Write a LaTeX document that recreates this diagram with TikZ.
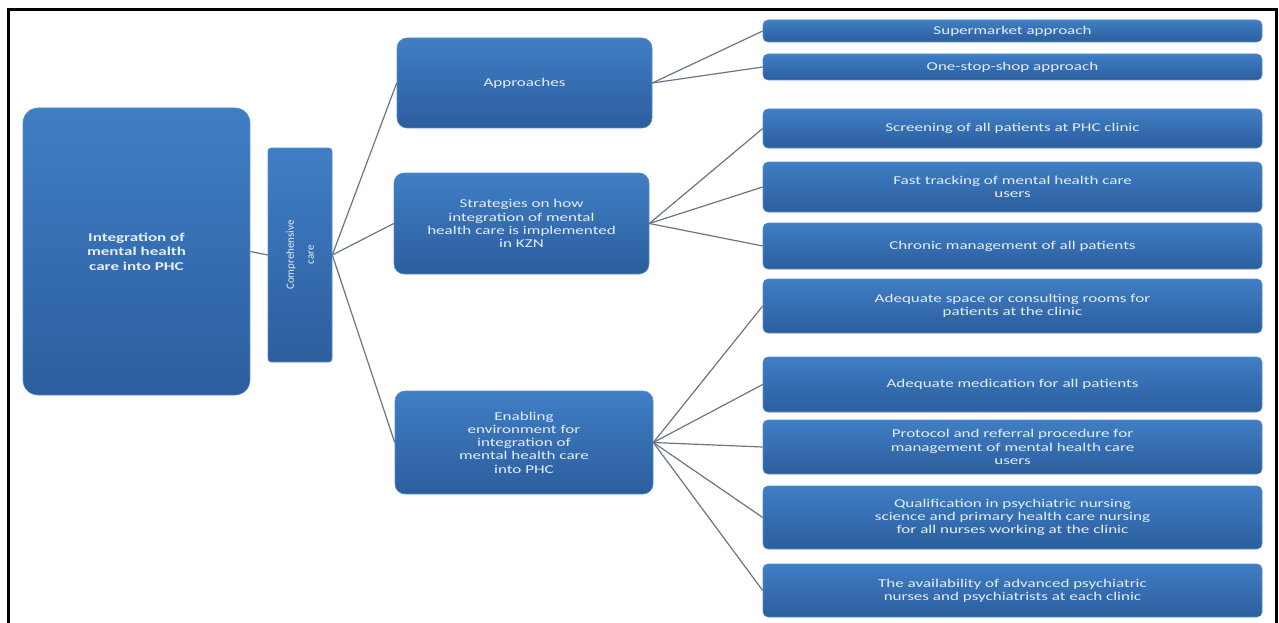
\documentclass[tikz,border=0pt]{standalone}
\usepackage{fontspec}
\setmainfont[FakeStretch=1.42]{Carlito}
\newfontfamily\rotfont{Carlito}
\definecolor{btop}{RGB}{64,126,196}
\definecolor{bbot}{RGB}{43,94,158}
\definecolor{bedge}{RGB}{88,140,205}
\definecolor{btext}{RGB}{228,237,248}
\definecolor{conn}{RGB}{105,118,132}
\tikzset{
  bluebox/.style={rectangle, top color=btop, bottom color=bbot, draw=bedge, line width=0.6pt,
    text=btext, align=center, inner sep=0pt, font=\fontsize{12}{13.3}\selectfont},
  bigbox/.style={bluebox, rounded corners=15pt, font=\fontsize{12}{14.5}\selectfont\bfseries},
  midbox/.style={bluebox, rounded corners=10pt},
  rbox/.style={bluebox, rounded corners=5pt, minimum width=499pt},
  conline/.style={draw=conn, line width=1.2pt}
}
\begin{document}
\begin{tikzpicture}[x=1pt,y=-1pt]
\useasboundingbox (0,0) rectangle (1279,623);
\fill[white] (0,0) rectangle (1279,623);
\draw[line width=3pt] (8,630) -- (8,10) -- (1276,10) -- (1276,630);

\node[bigbox, minimum width=227pt, minimum height=287pt] (big) at (136.5,251.5) {Integration of\\mental health\\care into PHC};
\node[bluebox, rounded corners=3pt, minimum width=64pt, minimum height=214pt] (comp) at (300,255) {};
\node[rotate=90, text=btext, align=center, font=\rotfont\fontsize{11}{20}\selectfont] (complbl) at (comp.center) {Comprehensive\\care};

\node[midbox, minimum width=255pt, minimum height=90pt] (appr) at (524.5,83) {Approaches};
\node[midbox, minimum width=255pt, minimum height=101pt] (strat) at (521.5,223.5) {Strategies on how\\integration of mental\\health care is implemented\\in KZN};
\node[midbox, minimum width=258pt, minimum height=103pt] (enab) at (524,442.5) {Enabling\\environment for\\integration of\\mental health care\\into PHC};

\node[rbox, minimum height=22pt] (r1) at (1012.5,31) {Supermarket approach};
\node[rbox, minimum height=26pt] (r2) at (1012.5,67) {One-stop-shop approach};
\node[rbox, minimum height=39pt] (r3) at (1012.5,128.5) {Screening of all patients at PHC clinic};
\node[rbox, minimum height=50pt] (r4) at (1012.5,187) {Fast tracking of mental health care\\users};
\node[rbox, minimum height=46pt] (r5) at (1012.5,246) {Chronic management of all patients};
\node[rbox, minimum height=54pt] (r6) at (1012.5,306) {Adequate space or consulting rooms for\\patients at the clinic};
\node[rbox, minimum height=55pt] (r7) at (1012.5,384.5) {Adequate medication for all patients};
\node[rbox, minimum height=54pt] (r8) at (1012.5,447) {Protocol and referral procedure for\\management of mental health care\\users};
\node[rbox, minimum height=63pt] (r9) at (1012.5,517.5) {Qualification in psychiatric nursing\\science and primary health care nursing\\for all nurses working at the clinic};
\node[rbox, minimum height=53pt] (r10) at (1012.5,590.5) {The availability of advanced psychiatric\\nurses and psychiatrists at each clinic};

\draw[conline] (big.east) -- (comp.west);
\draw[conline] (comp.east) -- (appr.west);
\draw[conline] (comp.east) -- (strat.west);
\draw[conline] (comp.east) -- (enab.west);
\draw[conline] (appr.east) -- (r1.west);
\draw[conline] (appr.east) -- (r2.west);
\draw[conline] (strat.east) -- (r3.west);
\draw[conline] (strat.east) -- (r4.west);
\draw[conline] (strat.east) -- (r5.west);
\draw[conline] (enab.east) -- (r6.west);
\draw[conline] (enab.east) -- (r7.west);
\draw[conline] (enab.east) -- (r8.west);
\draw[conline] (enab.east) -- (r9.west);
\draw[conline] (enab.east) -- (r10.west);
\end{tikzpicture}
\end{document}
